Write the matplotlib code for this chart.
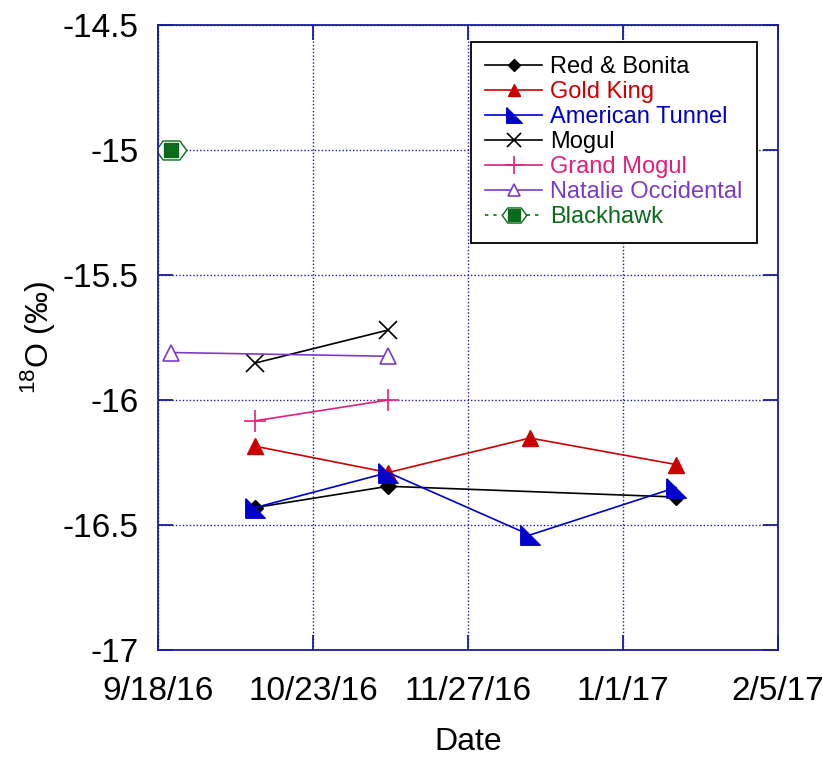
#-------------------------------------------------------------------------------------
# delta 18O of mine drainage samples vs sampling date

import datetime as dt
import matplotlib
matplotlib.use("Agg")
from matplotlib import pyplot as plt
from matplotlib.legend_handler import HandlerTuple
import matplotlib.dates as mdates

plt.rcParams['font.family'] = ['Liberation Sans', 'DejaVu Sans']
plt.rcParams['mathtext.fontset'] = 'custom'
plt.rcParams['mathtext.rm'] = 'Liberation Sans'

#-------------data-------------
d = dt.date

red_bonita_dates = [d(2016, 10, 10), d(2016, 11, 9), d(2017, 1, 13)]
red_bonita_o18 = [-16.43, -16.345, -16.388]

gold_king_dates = [d(2016, 10, 10), d(2016, 11, 9), d(2016, 12, 11), d(2017, 1, 13)]
gold_king_o18 = [-16.185, -16.29, -16.152, -16.258]

american_tunnel_dates = [d(2016, 10, 10), d(2016, 11, 9), d(2016, 12, 11), d(2017, 1, 13)]
american_tunnel_o18 = [-16.43, -16.29, -16.54, -16.35]

mogul_dates = [d(2016, 10, 10), d(2016, 11, 9)]
mogul_o18 = [-15.852, -15.72]

grand_mogul_dates = [d(2016, 10, 10), d(2016, 11, 9)]
grand_mogul_o18 = [-16.083, -16.0]

natalie_dates = [d(2016, 9, 21), d(2016, 11, 9)]
natalie_o18 = [-15.81, -15.825]

blackhawk_dates = [d(2016, 9, 21)]
blackhawk_o18 = [-15.0]

x_ticks = [d(2016, 9, 18), d(2016, 10, 23), d(2016, 11, 27), d(2017, 1, 1), d(2017, 2, 5)]
y_ticks = [-14.5, -15, -15.5, -16, -16.5, -17]

#-------------colors-------------
c_black = "#000000"
c_red = "#cc0000"
c_blue = "#0000cc"
c_pink = "#e0207a"
c_purple = "#7a3cc8"
c_green = "#0b6b1b"
c_axis = "#1c1c9c"

fig = plt.figure(figsize=(8.23, 7.57), dpi=100)
ax = fig.add_axes([0.192, 0.1413, 0.753, 0.8257])

# right-angle triangle used for American Tunnel
half_tri = [(-1, 1), (-1, -1), (1, -1), (-1, 1)]
# hexagon outline behind the Blackhawk square
hexa = [(-1, 0), (-0.55, 0.62), (0.55, 0.62), (1, 0), (0.55, -0.62), (-0.55, -0.62), (-1, 0)]

h1, = ax.plot(red_bonita_dates, red_bonita_o18, color=c_black, lw=1.2,
              marker="D", ms=8, mfc=c_black, mec=c_black)
h2, = ax.plot(gold_king_dates, gold_king_o18, color=c_red, lw=1.2,
              marker="^", ms=11, mfc=c_red, mec=c_red)
h3, = ax.plot(american_tunnel_dates, american_tunnel_o18, color=c_blue, lw=1.2,
              marker=half_tri, ms=14, mfc=c_blue, mec=c_blue)
h4, = ax.plot(mogul_dates, mogul_o18, color=c_black, lw=1.2,
              marker="x", ms=13, mew=1.2)
h5, = ax.plot(grand_mogul_dates, grand_mogul_o18, color=c_pink, lw=1.2,
              marker="+", ms=16, mew=1.2)
h6, = ax.plot(natalie_dates, natalie_o18, color=c_purple, lw=1.2,
              marker="^", ms=11, mfc="white", mec=c_purple, mew=1.2)
h7a, = ax.plot(blackhawk_dates, blackhawk_o18, color=c_green, lw=1.2, ls=(0, (2, 3)),
               marker=hexa, ms=22, mfc="white", mec=c_green, mew=1.0)
h7b, = ax.plot(blackhawk_dates, blackhawk_o18, ls="none",
               marker="s", ms=10, mfc=c_green, mec=c_green)

#-------------axes-------------
x0 = mdates.date2num(x_ticks[0])
x1 = mdates.date2num(x_ticks[-1])
ax.set_xlim(x0, x1)
ax.set_ylim(-17, -14.5)
ax.set_xticks([mdates.date2num(t) for t in x_ticks])
ax.set_xticklabels(["%d/%d/%d" % (t.month, t.day, t.year % 100) for t in x_ticks])
ax.set_yticks(y_ticks)
ax.set_yticklabels(["%g" % v for v in y_ticks])

ax.grid(True, color=c_axis, ls=(0, (1, 1.5)), lw=1.0)
for s in ax.spines.values():
    s.set_color(c_axis)
    s.set_linewidth(1.3)
ax.tick_params(axis="both", direction="in", length=11, width=1.3, color=c_axis,
               labelsize=24, top=True, right=True, pad=14)
ax.tick_params(axis="x", pad=19)

ax.set_xlabel("Date", fontsize=23, labelpad=14)
ax.set_ylabel(r"$^{18}$O (‰)", fontsize=23)
ax.yaxis.set_label_coords(-0.163, 0.5)

#-------------legend-------------
leg = ax.legend([h1, h2, h3, h4, h5, h6, (h7a, h7b)],
                ["Red & Bonita", "Gold King", "American Tunnel", "Mogul",
                 "Grand Mogul", "Natalie Occidental", "Blackhawk"],
                handler_map={tuple: HandlerTuple(ndivide=1)},
                loc="upper right", bbox_to_anchor=(0.966, 0.973), borderaxespad=0,
                fontsize=17, frameon=True, fancybox=False, framealpha=1,
                edgecolor="black", handlelength=2.4, handletextpad=0.35,
                labelspacing=0.13, borderpad=0.6, markerscale=0.8)
leg.get_frame().set_linewidth(1.3)
for txt, col in zip(leg.get_texts(), [c_black, c_red, c_blue, c_black, c_pink, c_purple, c_green]):
    txt.set_color(col)

fig.savefig("out.png", dpi=100)
